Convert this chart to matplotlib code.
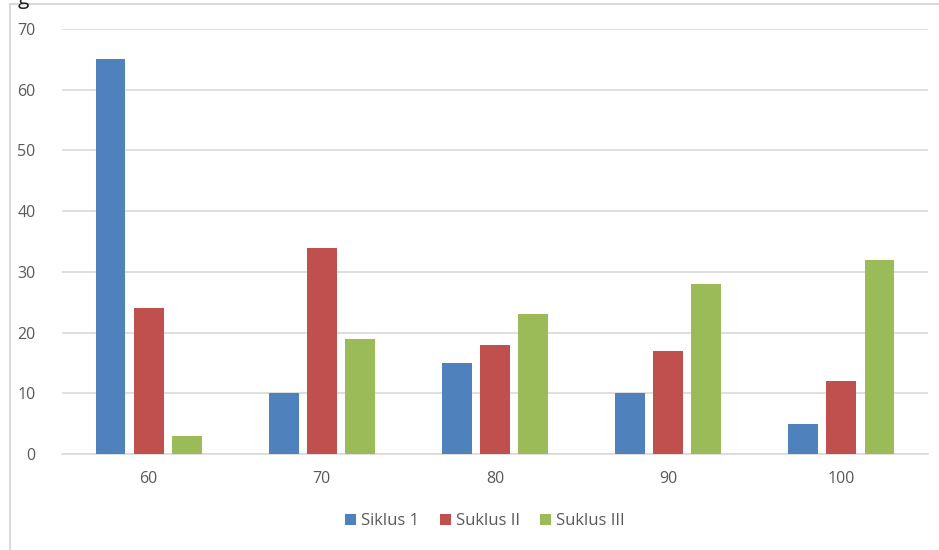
import numpy as np
import matplotlib.pyplot as plt
from matplotlib.patches import Rectangle

# nilai per kategori
categories = ['60', '70', '80', '90', '100']
series_names = ['Siklus 1', 'Suklus II', 'Suklus III']
siklus_1 = [65, 10, 15, 10, 5]
suklus_2 = [24, 34, 18, 17, 12]
suklus_3 = [3, 19, 23, 28, 32]
colors = ['#4F81BD', '#C0504D', '#9BBB59']

plt.rcParams['font.family'] = ['Open Sans', 'DejaVu Sans']
text_col = '#595959'
grid_col = '#D9D9D9'

fig = plt.figure(figsize=(9.39, 5.5), dpi=100)
ax = fig.add_axes([62/939, 1 - 454/550, 866/939, 425/550])

# frame around the chart area
fig.patches.append(Rectangle((10/939, -0.1), 1.2, (1 - 4/550) + 0.1,
                             transform=fig.transFigure, fill=False,
                             edgecolor=grid_col, linewidth=1.5))
fig.text(18/939, 1 + 12/550, 'g', fontsize=15, color='#222222', va='top')

x = np.arange(len(categories))
width = 0.173
step = 0.22
for i, (vals, name) in enumerate(zip([siklus_1, suklus_2, suklus_3], series_names)):
    ax.bar(x + (i - 1) * step, vals, width, color=colors[i], label=name, zorder=3)

ax.set_xlim(-0.5, len(categories) - 0.5)
ax.set_ylim(0, 70)
ax.set_yticks(range(0, 71, 10))
ax.set_xticks(x)
ax.set_xticklabels(categories)
ax.yaxis.grid(True, color=grid_col, linewidth=1.2, zorder=0)
ax.tick_params(axis='both', length=0, labelsize=11.5, labelcolor=text_col)
ax.tick_params(axis='y', pad=19)
ax.tick_params(axis='x', pad=12)
for s in ['top', 'right', 'left']:
    ax.spines[s].set_visible(False)
ax.spines['bottom'].set_color(grid_col)
ax.spines['bottom'].set_linewidth(1.2)

ax.legend(loc='center', bbox_to_anchor=(485/939, 1 - 521/550),
          bbox_transform=fig.transFigure, ncol=3, frameon=False,
          fontsize=12, labelcolor=text_col, handlelength=0.65, handleheight=0.65,
          handletextpad=0.3, columnspacing=1.25)

fig.savefig('out.png', dpi=100)
